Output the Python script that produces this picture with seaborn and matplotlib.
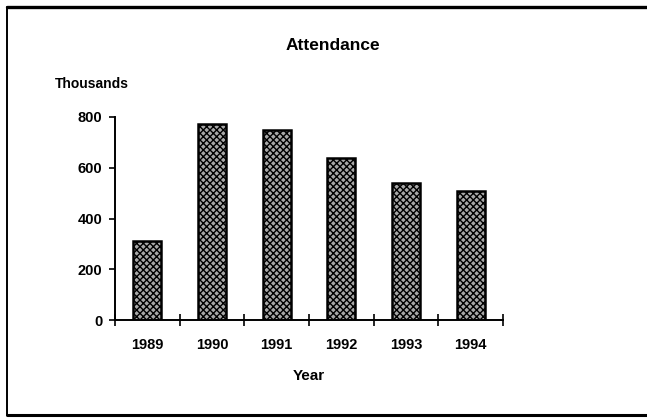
import matplotlib
matplotlib.use("Agg")
import matplotlib.pyplot as plt
from matplotlib.lines import Line2D
from matplotlib.ticker import FixedLocator
import seaborn as sns
import pandas as pd

years = ["1989", "1990", "1991", "1992", "1993", "1994"]
attendance = [312, 772, 748, 638, 538, 508]
y_ticks = [0, 200, 400, 600, 800]

sns.set_theme(style="white")
plt.rcParams["font.family"] = ["Liberation Sans", "DejaVu Sans"]
plt.rcParams["font.weight"] = "bold"
plt.rcParams["hatch.linewidth"] = 1.0
plt.rcParams["hatch.color"] = "#111111"

df = pd.DataFrame({"Year": years, "Attendance": attendance})

W, H = 647, 418
fig = plt.figure(figsize=(W / 100, H / 100), dpi=100)
fig.patch.set_facecolor("white")
ax = fig.add_axes([115 / W, 1 - 320 / H, (503 - 115) / W, (320 - 117) / H])

sns.barplot(data=df, x="Year", y="Attendance", ax=ax, width=0.43,
            color="#a8a8a8", edgecolor="black", linewidth=1.8,
            saturation=1)
for bar in ax.patches:
    bar.set_hatch("xxxxx")

ax.set_xlim(-0.5, len(years) - 0.5)
ax.set_ylim(0, 800)
ax.set_yticks(y_ticks)

for side in ("top", "right"):
    ax.spines[side].set_visible(False)
for side in ("left", "bottom"):
    ax.spines[side].set_color("black")
    ax.spines[side].set_linewidth(1.4)

# category boundaries carry the tick marks; labels sit at the bar centres
ax.xaxis.set_minor_locator(FixedLocator([i - 0.5 for i in range(len(years) + 1)]))
ax.tick_params(axis="x", which="major", length=0, pad=13, labelsize=10.5)
ax.tick_params(axis="x", which="minor", direction="inout", length=9,
               width=1.2, color="black", bottom=True)
ax.tick_params(axis="y", which="major", direction="out", length=4,
               width=1.2, color="black", left=True, pad=5, labelsize=10.5)
for lab in ax.get_xticklabels() + ax.get_yticklabels():
    lab.set_fontweight("bold")
    lab.set_color("black")

ax.set_xlabel("Year", fontsize=11, fontweight="bold", labelpad=12, color="black")
ax.set_ylabel("")

fig.text(333 / W, 1 - 46 / H, "Attendance", ha="center", va="center",
         fontsize=12.5, fontweight="bold", color="black")
fig.text(55 / W, 1 - 84 / H, "Thousands", ha="left", va="center",
         fontsize=10, fontweight="bold", color="black")

# page frame
frame = dict(color="black", transform=fig.transFigure, clip_on=False)
fig.add_artist(Line2D([7 / W, 1.0], [1 - 7 / H, 1 - 7 / H], linewidth=2.4, **frame))
fig.add_artist(Line2D([7 / W, 7 / W], [1 - 7 / H, 1 - 415 / H], linewidth=1.4, **frame))
fig.add_artist(Line2D([7 / W, 1.0], [1 - 415 / H, 1 - 415 / H], linewidth=2.2, **frame))

fig.savefig("out.png", dpi=100)
